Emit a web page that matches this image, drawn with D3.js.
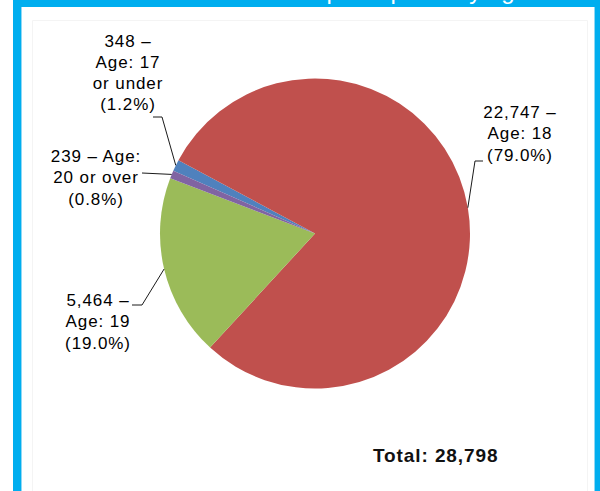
<!DOCTYPE html>
<html>
<head>
<meta charset="utf-8">
<script src="https://cdn.jsdelivr.net/npm/d3@7"></script>
<style>
  html, body { margin: 0; padding: 0; background: #ffffff; }
  svg { display: block; }
  text { font-family: Arial, "Liberation Sans", sans-serif; }
</style>
</head>
<body>
<svg id="chart" width="600" height="491"></svg>
<script>
// ---- data ----
const categories = ["Age: 17 or under", "Age: 18", "Age: 19", "Age: 20 or over"];
const values = [348, 22747, 5464, 239];
const percents = ["1.2%", "79.0%", "19.0%", "0.8%"];
const labelLines = [
  ["348 \u2013", "Age: 17", "or under", "(1.2%)"],
  ["22,747 \u2013", "Age: 18", "(79.0%)"],
  ["5,464 \u2013", "Age: 19", "(19.0%)"],
  ["239 \u2013 Age:", "20 or over", "(0.8%)"]
];
const colors = ["#4F81BD", "#C0504D", "#9BBB59", "#8064A2"];
const titleText = "Number of participants by age";
const totalText = "Total: 28,798";

// ---- layout ----
const W = 600, H = 491;
const cx = 315, cy = 233.5, R = 155;
const startDeg = -66.1;
const labelLayout = [
  { x: 128, y: 46.5, lead: [[153, 117], [162, 117]] },
  { x: 520, y: 118, lead: [[483, 161], [475, 161]] },
  { x: 98, y: 306, lead: [[132, 305], [142, 305]] },
  { x: 96, y: 162, lead: [[142, 173]] }
];
const lineH = 21.3;

const svg = d3.select("#chart");

// frame
const blue = "#00AEEF";
svg.append("rect").attr("x", 13).attr("y", 0).attr("width", 600 - 13).attr("height", H).attr("fill", blue);
svg.append("rect").attr("x", 21).attr("y", 7).attr("width", 595 - 21).attr("height", H - 7).attr("fill", "#ffffff");
svg.append("line").attr("x1", 21.5).attr("x2", 21.5).attr("y1", 7).attr("y2", H).attr("stroke", "#8fd8f5").attr("stroke-width", 1);
svg.append("line").attr("x1", 594.5).attr("x2", 594.5).attr("y1", 7).attr("y2", H).attr("stroke", "#8fd8f5").attr("stroke-width", 1);

// faint plot-area border (top and sides only visible)
svg.append("path").attr("d", "M32.5,491 V20.5 H587.5 V491")
  .attr("fill", "none").attr("stroke", "#f4f4f4").attr("stroke-width", 1);

// title (cut off at top, as in the reference)
svg.append("text").attr("x", 528).attr("y", -1).attr("text-anchor", "end")
  .attr("font-size", 24).attr("fill", "#ffffff").text(titleText);

// pie
const data = categories.map((c, i) => ({ category: c, value: values[i], color: colors[i], lines: labelLines[i], layout: labelLayout[i] }));
const start = startDeg * Math.PI / 180;
const pie = d3.pie().value(d => d.value).sort(null).startAngle(start).endAngle(start + 2 * Math.PI);
const arcs = pie(data);
const arc = d3.arc().innerRadius(0).outerRadius(R);
const g = svg.append("g").attr("transform", `translate(${cx},${cy})`);
g.selectAll("path.slice").data(arcs).enter().append("path")
  .attr("class", "slice")
  .attr("d", arc)
  .attr("fill", d => d.data.color);

// leader lines
const edgePoint = a => {
  const m = (a.startAngle + a.endAngle) / 2;
  return [cx + R * Math.sin(m), cy - R * Math.cos(m)];
};
const line = d3.line();
svg.selectAll("path.leader").data(arcs).enter().append("path")
  .attr("class", "leader")
  .attr("d", a => line([...a.data.layout.lead, edgePoint(a)]))
  .attr("fill", "none").attr("stroke", "#1a1a1a").attr("stroke-width", 1);

// labels
const labels = svg.selectAll("text.lbl").data(arcs).enter().append("text")
  .attr("class", "lbl")
  .attr("text-anchor", "middle")
  .attr("font-size", 17)
  .attr("letter-spacing", "0.9px")
  .attr("fill", "#000000");
labels.each(function (a) {
  const t = d3.select(this);
  a.data.lines.forEach((s, i) => {
    t.append("tspan").attr("x", a.data.layout.x).attr("y", a.data.layout.y + i * lineH).text(s);
  });
});

// total
svg.append("text").attr("x", 373).attr("y", 462).attr("font-size", 19).attr("font-weight", "bold")
  .attr("letter-spacing", "0.9px").attr("fill", "#111111").text(totalText);
</script>
</body>
</html>
